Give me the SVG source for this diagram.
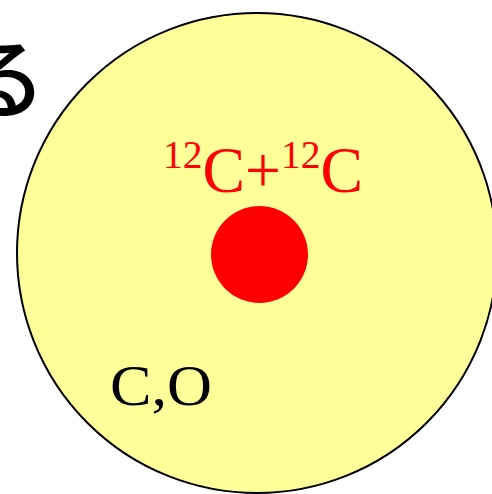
<svg xmlns="http://www.w3.org/2000/svg" width="492" height="494" viewBox="0 0 492 494">
<style>
.serif{font-family:"Liberation Serif","Times New Roman",serif}
</style>
<rect width="492" height="494" fill="#ffffff"/>
<text x="46" y="111" text-anchor="end" font-family="'Noto Sans CJK JP',sans-serif" font-size="88" font-weight="500" fill="#000">る</text>
<g id="star">
<circle cx="257" cy="253" r="240" fill="#ffff99" stroke="#000" stroke-width="2"/>
</g>
<g id="core">
<circle cx="259.5" cy="254.5" r="48.5" fill="#ff0000"/>
</g>
<text class="serif" x="163" y="192" font-size="66" fill="#ff0000" textLength="200" lengthAdjust="spacingAndGlyphs"><tspan font-size="41" dy="-24">12</tspan><tspan dy="24">C+</tspan><tspan font-size="41" dy="-24">12</tspan><tspan dy="24">C</tspan></text>
<text class="serif" x="110" y="405" font-size="57" fill="#000" textLength="102" lengthAdjust="spacingAndGlyphs">C,O</text>
</svg>
